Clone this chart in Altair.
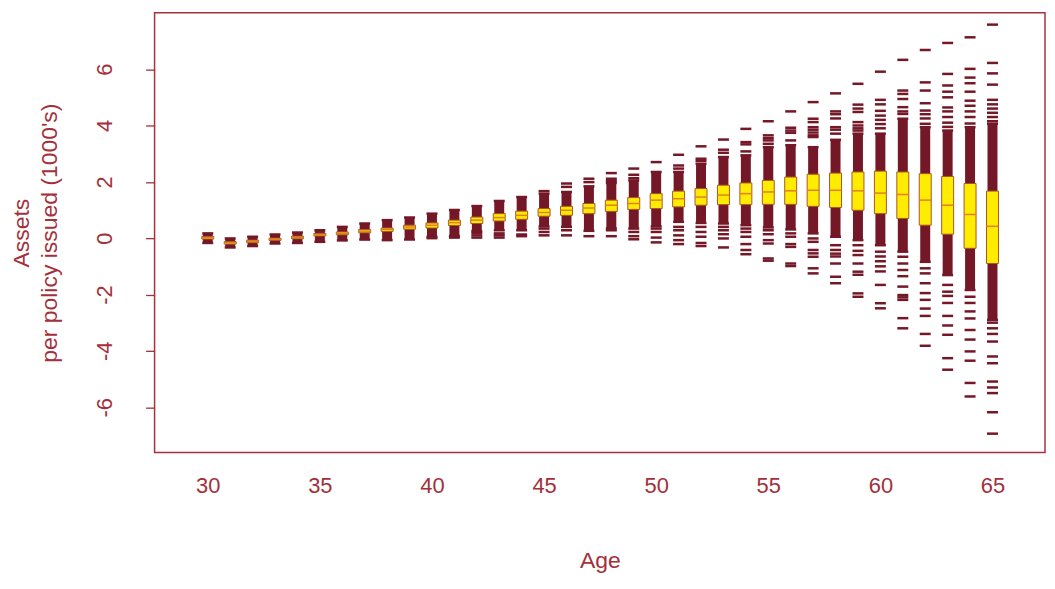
import altair as alt
import pandas as pd

ages = list(range(30, 66))
q1 = [-0.03, -0.21, -0.16, -0.08, -0.02, 0.08, 0.12, 0.19, 0.24, 0.32, 0.36, 0.45, 0.52, 0.61, 0.67, 0.78,
      0.81, 0.87, 0.95, 1.02, 1.05, 1.11, 1.17, 1.19, 1.19, 1.20, 1.20, 1.13, 1.09, 0.99, 0.87, 0.70,
      0.46, 0.14, -0.36, -0.90]
med = [0.02, -0.16, -0.12, -0.04, 0.02, 0.12, 0.17, 0.25, 0.31, 0.40, 0.46, 0.55, 0.64, 0.73, 0.81, 0.91,
       0.99, 1.07, 1.17, 1.23, 1.35, 1.40, 1.46, 1.53, 1.58, 1.64, 1.68, 1.70, 1.70, 1.68, 1.60, 1.55,
       1.35, 1.17, 0.84, 0.42]
q3 = [0.06, -0.12, -0.07, 0.00, 0.07, 0.17, 0.22, 0.31, 0.36, 0.46, 0.54, 0.64, 0.75, 0.87, 0.96, 1.05,
      1.13, 1.23, 1.35, 1.44, 1.58, 1.67, 1.76, 1.88, 1.96, 2.05, 2.17, 2.27, 2.31, 2.35, 2.38, 2.35,
      2.29, 2.19, 1.94, 1.67]
band_lo = [-0.17, -0.33, -0.28, -0.19, -0.17, -0.13, -0.08, -0.05, -0.07, -0.05, 0.05, 0.08, 0.25, 0.28,
           0.28, 0.42, 0.40, 0.26, 0.35, 0.34, 0.42, 0.58, 0.54, 0.52, 0.46, 0.38, 0.31, 0.17, 0.05,
           -0.07, -0.25, -0.48, -0.84, -1.31, -1.84, -2.90]
band_hi = [0.17, -0.01, 0.05, 0.13, 0.20, 0.28, 0.40, 0.52, 0.64, 0.73, 0.87, 1.00, 1.14, 1.32, 1.46, 1.58,
           1.64, 1.84, 1.96, 2.05, 2.35, 2.35, 2.64, 2.88, 2.94, 3.23, 3.30, 3.23, 3.49, 3.71, 3.71, 4.24,
           3.94, 3.82, 3.94, 4.06]
outliers = [
    [], [], [], [], [], [], [], [], [], [],
    [0.0],
    [0.02],
    [0.19, 0.10, 0.02],
    [0.17, 0.10, 0.02],
    [0.13, 0.07],
    [1.67, 0.34, 0.22, 0.10],
    [1.94, 1.82, 0.28, 0.10],
    [2.11, 1.99, 0.07],
    [2.31, 2.11, 2.03, 0.28, 0.07],
    [2.47, 2.25, 2.13, 0.22, 0.07, -0.04],
    [2.70, 0.34, 0.22, 0.02, -0.15],
    [2.96, 2.58, 2.47, 0.40, 0.28, 0.10, -0.07, -0.21],
    [3.26, 2.82, 2.74, 0.40, 0.22, 0.05, -0.17, -0.28],
    [3.50, 3.14, 3.03, 0.40, 0.28, 0.14, -0.01, -0.33],
    [3.88, 3.41, 3.33, 3.08, 0.34, 0.22, 0.05, -0.21, -0.42, -0.57],
    [4.15, 3.65, 3.55, 3.47, 3.35, 0.28, 0.14, -0.07, -0.19, -0.72, -0.80],
    [4.50, 3.92, 3.82, 3.74, 3.47, 0.17, 0.05, -0.21, -0.31, -0.90, -0.99],
    [4.83, 4.24, 4.12, 3.94, 3.85, 3.75, 3.65, 3.59, -0.01, -0.13, -0.42, -0.54, -0.66, -1.07, -1.25],
    [5.14, 4.50, 4.40, 4.25, 3.94, 3.85, 3.71, -0.25, -0.42, -0.55, -0.65, -0.90, -1.37, -1.60],
    [5.48, 4.74, 4.60, 4.48, 4.12, 4.00, 3.90, 3.82, -0.25, -0.45, -0.60, -0.90, -1.19, -1.30, -1.96, -2.08],
    [5.91, 4.91, 4.75, 4.52, 4.35, 4.20, 4.05, 3.90, -0.48, -0.65, -0.82, -1.00, -1.18, -1.66, -2.31, -2.49],
    [6.33, 5.24, 5.12, 4.94, 4.65, 4.50, 4.41, -0.66, -0.90, -1.13, -1.35, -1.72, -2.02, -2.10, -2.19,
     -2.84, -3.20],
    [6.68, 5.53, 5.24, 4.79, 4.53, 4.40, 4.25, 4.06, -1.07, -1.25, -1.60, -1.95, -2.19, -2.50, -2.76,
     -3.40, -3.82],
    [6.93, 5.83, 5.42, 5.20, 5.00, 4.64, 4.50, 4.30, 4.10, 3.95, -1.66, -1.90, -2.05, -2.30, -2.76, -3.10,
     -3.43, -4.26, -4.67],
    [7.13, 6.01, 5.70, 5.50, 5.20, 4.88, 4.70, 4.50, 4.30, 4.07, -2.08, -2.30, -2.60, -2.85, -3.26, -3.60,
     -4.02, -4.35, -5.14, -5.62],
    [7.58, 6.22, 5.85, 5.45, 4.91, 4.75, 4.60, 4.45, 4.30, 4.15, -3.00, -3.20, -3.40, -3.67, -4.20, -4.44,
     -5.09, -5.30, -5.50, -6.18, -6.94],
]
y_ticks = [-6, -4, -2, 0, 2, 4, 6]
x_ticks = [30, 35, 40, 45, 50, 55, 60, 65]

summary = pd.DataFrame({"age": ages, "q1": q1, "med": med, "q3": q3, "lo": band_lo, "hi": band_hi})
out_df = pd.DataFrame([{"age": a, "v": v} for a, vs in zip(ages, outliers) for v in vs])
caps = pd.DataFrame([{"age": a, "v": v} for a, lo, hi in zip(ages, band_lo, band_hi) for v in (lo, hi)])

MAROON = "#741828"
TXT = "#a3303a"
FONT = "Liberation Sans"

xs = alt.Scale(domain=[27.85, 67.12], nice=False, zero=False)
ys = alt.Scale(domain=[-7.61, 8.0], nice=False, zero=False)

x_axis = alt.Axis(values=x_ticks, ticks=False, domain=False, grid=False, labelFontSize=22,
                  labelColor=TXT, labelPadding=23, labelFont=FONT, title="Age", titleFontSize=23,
                  titleColor=TXT, titleFont=FONT, titleFontWeight="normal", titleY=115,
                  titleBaseline="alphabetic")
y_axis = alt.Axis(values=y_ticks, domain=False, grid=False, tickSize=9, tickWidth=1.3, tickColor=TXT,
                  labelFontSize=22, labelColor=TXT, labelFont=FONT, labelAngle=270, labelAlign="center",
                  labelBaseline="alphabetic", labelPadding=34,
                  labelExpr="datum.value < 0 ? '-' + abs(datum.value) : '' + datum.value",
                  title=["Assets", "per policy issued (1000's)"], titleFontSize=23, titleColor=TXT,
                  titleFont=FONT, titleFontWeight="normal", titleAngle=270, titleAlign="center",
                  titleBaseline="top", titleLineHeight=28, titleX=-144, titleY=220.5)

band = alt.Chart(summary).mark_rule(color=MAROON, strokeWidth=10, strokeCap="butt").encode(
    x=alt.X("age:Q", scale=xs, axis=x_axis),
    y=alt.Y("lo:Q", scale=ys, axis=y_axis),
    y2="hi:Q",
)
cap = alt.Chart(caps).mark_tick(orient="horizontal", color=MAROON, size=11, thickness=2.5, opacity=1).encode(
    x=alt.X("age:Q", scale=xs), y=alt.Y("v:Q", scale=ys)
)
outs = alt.Chart(out_df).mark_tick(orient="horizontal", color=MAROON, size=11, thickness=2.5, opacity=1).encode(
    x=alt.X("age:Q", scale=xs), y=alt.Y("v:Q", scale=ys)
)
box = alt.Chart(summary).mark_bar(width=12, fill="#ffec00", stroke="#a8562a", strokeWidth=1, opacity=1).encode(
    x=alt.X("age:Q", scale=xs), y=alt.Y("q1:Q", scale=ys), y2="q3:Q"
)
median = alt.Chart(summary).mark_tick(orient="horizontal", color="#e2801e", size=12, thickness=1.5, opacity=1).encode(
    x=alt.X("age:Q", scale=xs), y=alt.Y("med:Q", scale=ys)
)

chart = (band + cap + outs + box + median).properties(
    width=893, height=441,
    autosize=alt.AutoSizeParams(type="none"),
    padding={"left": 147, "top": 4, "right": 2, "bottom": 120},
    background="white",
).configure(font=FONT, view=alt.ViewConfig(stroke="#a8323c", strokeWidth=1.5))

chart.save("out.html", embed_options={"renderer": "svg", "actions": False})
